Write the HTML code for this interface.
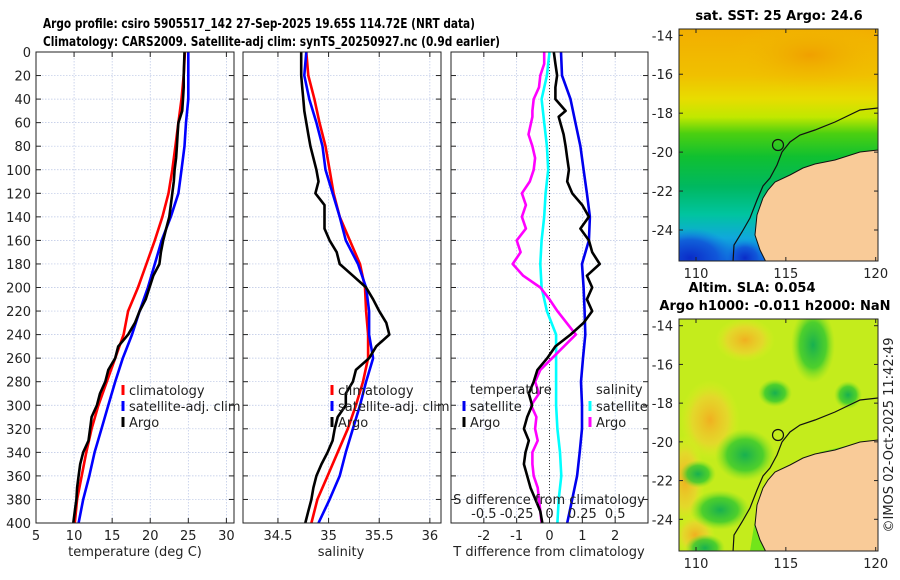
<!DOCTYPE html>
<html><head><meta charset="utf-8">
<style>
html,body{margin:0;padding:0;background:#fff;}
svg{display:block;font-family:"DejaVu Sans","Liberation Sans",sans-serif;}
</style></head>
<body>
<svg id="fig" width="900" height="580" viewBox="0 0 900 580" xmlns="http://www.w3.org/2000/svg">
<defs>
<linearGradient id="sstg" x1="0" y1="0" x2="0" y2="1">
<stop offset="0" stop-color="#f2ae00"/>
<stop offset="0.2" stop-color="#f0c000"/>
<stop offset="0.3" stop-color="#e8dc00"/>
<stop offset="0.38" stop-color="#c0e800"/>
<stop offset="0.45" stop-color="#4cd010"/>
<stop offset="0.55" stop-color="#10c030"/>
<stop offset="0.68" stop-color="#00b860"/>
<stop offset="0.8" stop-color="#00c4a0"/>
<stop offset="0.9" stop-color="#10a8dc"/>
<stop offset="1" stop-color="#1060e0"/>
</linearGradient>
<radialGradient id="blueblob" cx="0.5" cy="0.5" r="0.5">
<stop offset="0" stop-color="#0a2cc8"/><stop offset="0.6" stop-color="#1050d8" stop-opacity="0.8"/><stop offset="1" stop-color="#1080e0" stop-opacity="0"/>
</radialGradient>
<radialGradient id="orblob" cx="0.5" cy="0.5" r="0.5">
<stop offset="0" stop-color="#f0a000"/><stop offset="1" stop-color="#f0c000" stop-opacity="0"/>
</radialGradient>
<radialGradient id="gblob" cx="0.5" cy="0.5" r="0.5">
<stop offset="0" stop-color="#18b050"/><stop offset="0.6" stop-color="#30c830" stop-opacity="0.8"/><stop offset="1" stop-color="#80e020" stop-opacity="0"/>
</radialGradient>
<radialGradient id="yblob" cx="0.5" cy="0.5" r="0.5">
<stop offset="0" stop-color="#f0b020"/><stop offset="0.6" stop-color="#f0d030" stop-opacity="0.7"/><stop offset="1" stop-color="#e0f020" stop-opacity="0"/>
</radialGradient>
<clipPath id="map1clip"><rect x="679" y="29" width="199" height="232"/></clipPath>
<clipPath id="map2clip"><rect x="679" y="319" width="199" height="232"/></clipPath>
</defs>

<text x="43" y="28" font-size="13.5" font-weight="bold" textLength="432" lengthAdjust="spacingAndGlyphs">Argo profile: csiro 5905517_142 27-Sep-2025 19.65S 114.72E (NRT data)</text>
<text x="43" y="46" font-size="13.5" font-weight="bold" textLength="457" lengthAdjust="spacingAndGlyphs">Climatology: CARS2009. Satellite-adj clim: synTS_20250927.nc (0.9d earlier)</text>

<g id="p1"></g>
<g id="p2"></g>
<g id="p3"></g>

<g>
<text x="779" y="20" font-size="13" font-weight="bold" text-anchor="middle">sat. SST: 25 Argo: 24.6</text>
<g clip-path="url(#map1clip)">
<rect x="679" y="29" width="199" height="232" fill="url(#sstg)"/>
<ellipse cx="810" cy="55" rx="80" ry="35" fill="url(#orblob)"/>
<ellipse cx="690" cy="258" rx="45" ry="30" fill="url(#blueblob)"/>
<ellipse cx="745" cy="258" rx="20" ry="18" fill="url(#blueblob)"/>
<g id="land1"></g>
</g>
<rect x="679" y="29" width="199" height="232" fill="none" stroke="#222" stroke-width="1"/>
</g>

<g>
<text x="752" y="292" font-size="13" font-weight="bold" text-anchor="middle">Altim. SLA: 0.054</text>
<text x="775" y="310" font-size="13" font-weight="bold" text-anchor="middle">Argo h1000: -0.011 h2000: NaN</text>
<g clip-path="url(#map2clip)">
<rect x="679" y="319" width="199" height="232" fill="#c4ec1c"/>
<ellipse cx="745" cy="340" rx="30" ry="22" fill="url(#yblob)"/>
<ellipse cx="710" cy="420" rx="30" ry="40" fill="url(#yblob)"/>
<ellipse cx="685" cy="480" rx="20" ry="45" fill="url(#yblob)"/>
<ellipse cx="695" cy="535" rx="20" ry="20" fill="url(#yblob)"/>
<ellipse cx="813" cy="345" rx="22" ry="38" fill="url(#gblob)"/>
<ellipse cx="775" cy="393" rx="17" ry="14" fill="url(#gblob)"/>
<ellipse cx="848" cy="395" rx="14" ry="14" fill="url(#gblob)"/>
<ellipse cx="745" cy="455" rx="30" ry="26" fill="url(#gblob)"/>
<ellipse cx="698" cy="474" rx="18" ry="14" fill="url(#gblob)"/>
<ellipse cx="720" cy="510" rx="30" ry="20" fill="url(#gblob)"/>
<ellipse cx="705" cy="548" rx="20" ry="14" fill="url(#gblob)"/>
<path d="M877,445 L850,445 L820,452 L790,472 L770,495 L755,520 L750,551 L877,551Z" fill="#5ee41a" opacity="0.8"/>
<g id="land2" transform="translate(0,290)"></g>
</g>
<rect x="679" y="319" width="199" height="232" fill="none" stroke="#222" stroke-width="1"/>
<text transform="translate(893,435) rotate(-90)" font-size="13" text-anchor="middle" fill="#222">©IMOS 02-Oct-2025 11:42:49</text>
</g>
<g id="mapaxes"></g>
</svg>

<script>
var depthTicks = [0,20,40,60,80,100,120,140,160,180,200,220,240,260,280,300,320,340,360,380,400];
var smoothDepths = [0,20,40,60,80,100,120,140,160,180,200,220,240,260,280,300,320,340,360,380,400];
var argoDepths = [0,10,20,30,40,50,55,60,70,80,90,100,110,120,130,140,150,160,170,180,190,200,210,220,230,240,250,260,270,280,290,300,310,320,330,340,350,360,370,380,390,400];

var tempClim = [24.55,24.4,24.1,23.7,23.3,22.9,22.4,21.6,20.6,19.5,18.4,17.1,16.5,15.4,14.3,13.2,12.3,11.6,11.0,10.4,10.1];
var tempSat  = [25.0,25.0,25.0,24.7,24.5,24.1,23.7,22.7,21.5,20.6,19.7,18.6,17.6,16.4,15.4,14.5,13.6,12.7,12.0,11.2,10.6];
var tempArgo = [24.5,24.45,24.4,24.4,24.3,24.2,23.95,23.7,23.6,23.5,23.4,23.2,23.1,22.9,22.7,22.5,22.1,21.7,21.4,21.2,20.4,19.9,19.4,18.6,18.0,17.1,15.8,15.4,14.5,14.1,13.4,13.0,12.3,12.1,11.9,11.2,10.8,10.6,10.4,10.3,10.1,9.9];

var salClim = [34.78,34.8,34.86,34.91,34.97,35.01,35.05,35.11,35.21,35.31,35.36,35.37,35.39,35.39,35.34,35.27,35.19,35.09,34.99,34.89,34.83];
var salSat  = [34.78,34.76,34.81,34.88,34.94,34.97,35.04,35.11,35.17,35.29,35.37,35.4,35.4,35.44,35.37,35.31,35.24,35.17,35.11,35.01,34.9];
var salArgo = [34.73,34.73,34.73,34.74,34.75,34.76,34.77,34.78,34.8,34.82,34.85,34.88,34.9,34.87,34.96,34.96,34.96,35.01,35.08,35.11,35.24,35.37,35.44,35.5,35.57,35.6,35.47,35.4,35.27,35.24,35.17,35.17,35.09,35.06,35.04,34.99,34.93,34.88,34.85,34.83,34.8,34.77];

var dTempSat  = [0.35,0.38,0.64,0.79,0.94,1.04,1.14,1.23,1.2,0.99,1.04,1.07,1.09,1.02,0.96,0.99,0.99,0.92,0.84,0.69,0.54];
var dTempArgo = [0.13,0.18,0.23,0.18,0.18,0.49,0.28,0.33,0.43,0.49,0.54,0.59,0.54,0.69,1.0,1.2,0.94,1.2,1.3,1.53,1.14,1.3,1.14,1.3,1.04,0.64,0.18,-0.07,-0.37,-0.48,-0.63,-0.53,-0.68,-0.78,-0.63,-0.73,-0.78,-0.68,-0.58,-0.43,-0.28,-0.22];
var dSalSat   = [0.0,-0.02,-0.06,-0.04,-0.02,-0.01,-0.03,-0.04,-0.06,-0.07,-0.06,-0.02,0.05,0.05,0.05,0.05,0.06,0.08,0.09,0.07,0.06];
var dSalArgo  = [-0.04,-0.04,-0.07,-0.08,-0.12,-0.13,-0.13,-0.14,-0.16,-0.13,-0.11,-0.12,-0.15,-0.21,-0.18,-0.21,-0.18,-0.25,-0.22,-0.28,-0.2,-0.07,0.0,0.06,0.13,0.2,0.11,0.02,-0.07,-0.11,-0.08,-0.14,-0.1,-0.11,-0.09,-0.13,-0.13,-0.12,-0.09,-0.08,-0.07,-0.06];

var tTicks = [5,10,15,20,25,30];
var sTicks = [34.5,35,35.5,36];
var dTicks = [-2,-1,0,1,2];
var dSTickLabels = ["-0.5","-0.25","0","0.25","0.5"];
var dSTicks = [-0.5,-0.25,0,0.25,0.5];

var NS = "http://www.w3.org/2000/svg";
function mk(tag, attrs, parent){ var e=document.createElementNS(NS,tag); for(var k in attrs) e.setAttribute(k,attrs[k]); if(parent) parent.appendChild(e); return e; }
var TOP=52, BOT=523;
function yD(d){ return TOP + (d/400)*(BOT-TOP); }
function makeX(x0,x1,v0,v1){ return function(v){ return x0 + (v-v0)/(v1-v0)*(x1-x0); }; }

function panel(g, x0, x1, xs, ticks, labels, gridTicks, showY){
  for (var i=0;i<depthTicks.length;i++){
    var y=yD(depthTicks[i]);
    var gl=mk("line",{x1:x0,x2:x1,y1:y,y2:y,stroke:"#b8c4e4","stroke-width":0.7,"stroke-dasharray":"1.5,1.5"},g);
    
    
    mk("line",{x1:x0,x2:x0+5,y1:y,y2:y,stroke:"#222","stroke-width":1},g);
    mk("line",{x1:x1-5,x2:x1,y1:y,y2:y,stroke:"#222","stroke-width":1},g);
    if(showY){
      var t=mk("text",{x:x0-5,y:y+5,"font-size":13,"text-anchor":"end",fill:"#222"},g);
      t.textContent=depthTicks[i];
      
      
    }
  }
  for (var j=0;j<gridTicks.length;j++){
    var x=xs(gridTicks[j]);
    var vl=mk("line",{x1:x,x2:x,y1:TOP,y2:BOT,stroke:"#b8c4e4","stroke-width":0.7,"stroke-dasharray":"1.5,1.5"},g);
    
    
  }
  for (var k=0;k<ticks.length;k++){
    var xx=xs(ticks[k]);
    mk("line",{x1:xx,x2:xx,y1:BOT,y2:BOT-5,stroke:"#222","stroke-width":1},g);
    mk("line",{x1:xx,x2:xx,y1:TOP,y2:TOP+5,stroke:"#222","stroke-width":1},g);
    var tl=mk("text",{x:xx,y:540,"font-size":13,"text-anchor":"middle",fill:"#222"},g);
    tl.textContent=labels[k];
    
    
  }
}
function line(g, xs, vals, depths, color, name){
  var pts=[];
  for(var i=0;i<vals.length;i++) pts.push(xs(vals[i]).toFixed(1)+","+yD(depths[i]).toFixed(1));
  var p=mk("polyline",{points:pts.join(" "),fill:"none",stroke:color,"stroke-width":2.6,"stroke-linejoin":"round"},g);
  
  
}
function frame(g,x0,x1){ mk("rect",{x:x0,y:TOP,width:x1-x0,height:BOT-TOP,fill:"none",stroke:"#222","stroke-width":1},g); }
function legendEntry(g,x,y,color,label){
  var r=mk("rect",{x:x-1.5,y:y-9,width:3,height:10,fill:color},g);
  
  
  var t=mk("text",{x:x+6,y:y+1,"font-size":13,fill:"#222"},g);
  t.textContent=label;
  
  
}
function xtitle(g,x,txt){
  var t=mk("text",{x:x,y:556,"font-size":13,"text-anchor":"middle",fill:"#222"},g);
  t.textContent=txt;
  
  
}

var g1=document.getElementById("p1");
var xT=makeX(36,234,5,31);
panel(g1,36,234,xT,tTicks,tTicks,tTicks,true);
line(g1,xT,tempClim,smoothDepths,"#ff0000","temp-climatology-line");
line(g1,xT,tempSat,smoothDepths,"#0000ff","temp-satellite-line");
line(g1,xT,tempArgo,argoDepths,"#000000","temp-argo-line");
frame(g1,36,234);
legendEntry(g1,123,394,"#ff0000","climatology");
legendEntry(g1,123,410,"#0000ff","satellite-adj. clim");
legendEntry(g1,123,426,"#000000","Argo");
xtitle(g1,135,"temperature (deg C)");

var g2=document.getElementById("p2");
var xS=makeX(243,441,34.155,36.11);
panel(g2,243,441,xS,sTicks,sTicks,sTicks,false);
line(g2,xS,salClim,smoothDepths,"#ff0000","sal-climatology-line");
line(g2,xS,salSat,smoothDepths,"#0000ff","sal-satellite-line");
line(g2,xS,salArgo,argoDepths,"#000000","sal-argo-line");
frame(g2,243,441);
legendEntry(g2,332,394,"#ff0000","climatology");
legendEntry(g2,332,410,"#0000ff","satellite-adj. clim");
legendEntry(g2,332,426,"#000000","Argo");
xtitle(g2,341,"salinity");

var g3=document.getElementById("p3");
var xD=makeX(451,648,-3,3);
var xDS=function(s){ return xD(s*4); };
panel(g3,451,648,xD,dTicks,dTicks,dTicks,false);
mk("line",{x1:xD(0),x2:xD(0),y1:TOP,y2:BOT,stroke:"#333","stroke-width":1,"stroke-dasharray":"1,2"},g3);
line(g3,xD,dTempSat,smoothDepths,"#0000ee","dtemp-satellite-line");
line(g3,xDS,dSalSat,smoothDepths,"#00ffff","dsal-satellite-line");
line(g3,xDS,dSalArgo,argoDepths,"#ff00ff","dsal-argo-line");
line(g3,xD,dTempArgo,argoDepths,"#000000","dtemp-argo-line");
frame(g3,451,648);
var tt=mk("text",{x:470,y:394,"font-size":13,fill:"#222"},g3); tt.textContent="temperature";


var st=mk("text",{x:596,y:394,"font-size":13,fill:"#222"},g3); st.textContent="salinity";


legendEntry(g3,464,410,"#0000ee","satellite");
legendEntry(g3,464,426,"#000000","Argo");
legendEntry(g3,590,410,"#00ffff","satellite");
legendEntry(g3,590,426,"#ff00ff","Argo");
var sdt=mk("text",{x:549,y:504,"font-size":13,"text-anchor":"middle",fill:"#222"},g3);
sdt.textContent="S difference from climatology";


for(var i=0;i<dSTicks.length;i++){
  var sl=mk("text",{x:xDS(dSTicks[i]),y:518,"font-size":13,"text-anchor":"middle",fill:"#222"},g3);
  sl.textContent=dSTickLabels[i];
  
  
}
xtitle(g3,549,"T difference from climatology");

var landPts="878,150 860,152 835,160 815,164 803,168 790,175 775,182 768,190 763,198 757,215 755,235 760,250 766,262 878,262";
var shelf="878,108 860,110 835,122 815,130 800,135 790,142 782,152 777,165 770,178 763,186 757,200 750,218 742,232 734,245 733,262";
["land1","land2"].forEach(function(id){
  var g=document.getElementById(id);
  var l=mk("polygon",{points:landPts,fill:"#f9cb98",stroke:"#111","stroke-width":1},g);
  
  
  var s=mk("polyline",{points:shelf,fill:"none",stroke:"#111","stroke-width":1.2},g);
  
  
  var c=mk("circle",{cx:778,cy:145,r:5.5,fill:"none",stroke:"#111","stroke-width":1.2},g);
  
  
});
var lonTicks=[110,115,120];
var latTicks=[-14,-16,-18,-20,-22,-24];
var ma=document.getElementById("mapaxes");
[[29,35.3,19.47,261],[319,325.7,19.36,551]].forEach(function(m){
  lonTicks.forEach(function(lon){
    var x=696+(lon-110)*17.97;
    mk("line",{x1:x,x2:x,y1:m[3],y2:m[3]-4,stroke:"#222"},ma);
    mk("line",{x1:x,x2:x,y1:m[0],y2:m[0]+4,stroke:"#222"},ma);
    var t=mk("text",{x:x,y:m[3]+17,"font-size":13,"text-anchor":"middle",fill:"#222"},ma);
    t.textContent=lon;
    
    
  });
  latTicks.forEach(function(lat){
    var y=m[1]+(-14-lat)*m[2];
    mk("line",{x1:679,x2:683,y1:y,y2:y,stroke:"#222"},ma);
    mk("line",{x1:874,x2:878,y1:y,y2:y,stroke:"#222"},ma);
    var t=mk("text",{x:673,y:y+5,"font-size":13,"text-anchor":"end",fill:"#222"},ma);
    t.textContent=lat;
    
    
  });
});
</script>
</body></html>
